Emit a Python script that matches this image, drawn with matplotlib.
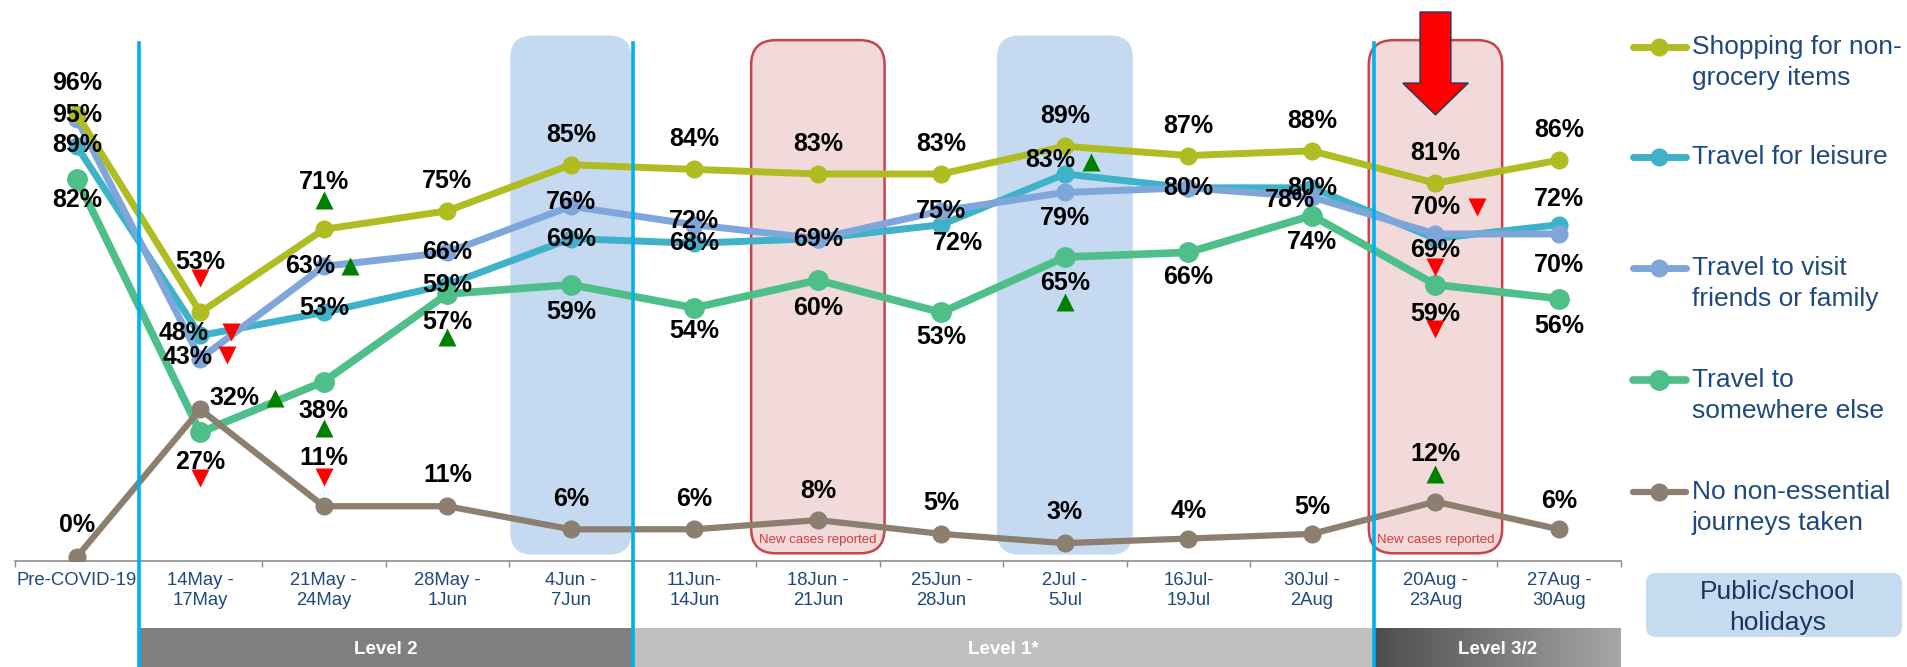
import matplotlib
matplotlib.use("Agg")
import matplotlib.pyplot as plt
import matplotlib.transforms as mtransforms
from matplotlib.patches import FancyBboxPatch, Rectangle
import numpy as np

plt.rcParams['font.family'] = ['Liberation Sans', 'DejaVu Sans']

# ---------------- Data ----------------
weeks = ["Pre-COVID-19", "14May -\n17May", "21May -\n24May", "28May -\n1Jun", "4Jun -\n7Jun",
         "11Jun-\n14Jun", "18Jun -\n21Jun", "25Jun -\n28Jun", "2Jul -\n5Jul", "16Jul-\n19Jul",
         "30Jul -\n2Aug", "20Aug -\n23Aug", "27Aug -\n30Aug"]

shopping  = [96, 53, 71, 75, 85, 84, 83, 83, 89, 87, 88, 81, 86]
leisure   = [89, 48, 53, 59, 69, 68, 69, 72, 83, 80, 80, 69, 72]
visit     = [95, 43, 63, 66, 76, 72, 69, 75, 79, 80, 78, 70, 70]
elsewhere = [82, 27, 38, 57, 59, 54, 60, 53, 65, 66, 74, 59, 56]
no_travel = [0, 32, 11, 11, 6, 6, 8, 5, 3, 4, 5, 12, 6]

# significant change vs previous wave: 1 up, -1 down, 0 none
sig_shopping  = [0, -1, 1, 0, 0, 0, 0, 0, 0, 0, 0, 0, 0]
sig_leisure   = [0, -1, 0, 0, 0, 0, 0, 0, 1, 0, 0, -1, 0]
sig_visit     = [0, -1, 1, 0, 0, 0, 0, 0, 0, 0, 0, -1, 0]
sig_elsewhere = [0, -1, 1, 1, 0, 0, 0, 0, 1, 0, 0, -1, 0]
sig_no_travel = [0, 1, -1, 0, 0, 0, 0, 0, 0, 0, 0, 1, 0]

holiday_weeks = [4, 8]
new_case_weeks = [6, 11]
levels = [("Level 2", 0.5, 4.5), ("Level 1*", 4.5, 10.5), ("Level 3/2", 10.5, 12.5)]

# ---------------- Label placement (pixel offsets) ----------------
lbl_shopping  = [(0, 31), (0, 50), (0, 47)] + [(0, 30)] * 10
tri_shopping  = [None, (0, 34), (0, 29)] + [None] * 10
lbl_leisure   = [(0, 1), (-17, 2), (0, 4), (0, 0), (0, 0), (0, 0), (0, 0), (17, -18),
                 (-15, 14), (0, 0), (0, 0), (0, -11), (0, 26)]
tri_leisure   = [None, (31, 3), None, None, None, None, None, None,
                 (26, 12), None, None, (0, -28), None]
lbl_visit     = [(0, 4), (-13, 2), (-14, 0), (0, 0), (0, 4), (0, 4), None, (0, 0),
                 (0, -26), None, (-22, -3), (0, 27), (0, -31)]
tri_visit     = [None, (27, 4), (26, 0), None, None, None, None, None,
                 None, None, None, (42, 27), None]
lbl_elsewhere = [(0, -21), (0, -30), (0, -29), (0, -28), (0, -27), (0, -23), (0, -28),
                 (0, -25), (0, -26), (0, -25), (0, -26), (0, -29), (0, -27)]
tri_elsewhere = [None, (0, -46), (0, -46), (0, -43), None, None, None, None,
                 (0, -45), None, None, (0, -44), None]
lbl_no_travel = [(0, 32), (34, 11), (0, 48), (0, 31), (0, 30), (0, 30), (0, 29),
                 (0, 31), (0, 31), (0, 28), (0, 27), (0, 48), (0, 28)]
tri_no_travel = [None, (75, 11), (0, 29), None, None, None, None, None,
                 None, None, None, (0, 28), None]

series = [
    ("Travel for leisure", leisure, sig_leisure, lbl_leisure, tri_leisure, "#3FB2C9", 5, 12, 3),
    ("Travel to visit\nfriends or family", visit, sig_visit, lbl_visit, tri_visit, "#7EA6DB", 5, 12, 4),
    ("Travel to\nsomewhere else", elsewhere, sig_elsewhere, lbl_elsewhere, tri_elsewhere, "#4FBF89", 5.5, 14, 5),
    ("No non-essential\njourneys taken", no_travel, sig_no_travel, lbl_no_travel, tri_no_travel, "#8C7F6F", 4.5, 12, 6),
    ("Shopping for non-\ngrocery items", shopping, sig_shopping, lbl_shopping, tri_shopping, "#AFBD22", 5, 12, 7),
]

W, H = 1907, 667
fig = plt.figure(figsize=(W / 100, H / 100), dpi=100)
fig.patch.set_facecolor("white")

# overlay in pixel coordinates for legend / bands
lax = fig.add_axes([0, 0, 1, 1], zorder=0)
lax.set_xlim(0, W)
lax.set_ylim(H, 0)
lax.axis("off")

left_px, right_px, bottom_px = 15, 1620.75, 561
ax = fig.add_axes([left_px / W, (H - bottom_px) / H, (right_px - left_px) / W, bottom_px / H], zorder=1)
ax.patch.set_visible(False)
x = np.arange(len(weeks))
ax.set_xlim(-0.5, len(weeks) - 0.5)
ax.set_ylim(-0.87, 120.7)
for s in ["top", "right", "left"]:
    ax.spines[s].set_visible(False)
ax.spines["bottom"].set_color("#8C8C8C")
ax.spines["bottom"].set_linewidth(1.2)
ax.set_yticks([])
ax.set_xticks([])
ax.set_xticks(np.arange(-0.5, len(weeks), 1), minor=True)
ax.tick_params(axis="x", which="minor", direction="out", length=4, width=1, color="#8C8C8C", labelbottom=False)

blend = mtransforms.blended_transform_factory(ax.transData, lax.transData)

# shaded periods
ma = 123.5 / 4.615
for wk in holiday_weeks:
    hw = 0.49 if wk == 4 else 0.55
    ax.add_patch(FancyBboxPatch((wk - hw, 0.5), 2 * hw, 112.5,
                                boxstyle="round,pad=0,rounding_size=0.18", mutation_aspect=ma,
                                fc="#C5DAF0", ec="none", zorder=1))
for wk in new_case_weeks:
    ax.add_patch(FancyBboxPatch((wk - 0.54, 0.8), 1.08, 111.2,
                                boxstyle="round,pad=0,rounding_size=0.2", mutation_aspect=ma,
                                fc="#F2DADA", ec="#C9444A", lw=1.8, zorder=1))
    ax.text(wk, 3.6, "New cases reported", color="#D9383E", fontsize=9.5,
            ha="center", va="center", zorder=2)

# red arrow
ax.arrow(11, 118.1, 0, -22.3, width=0.25, head_width=0.53, head_length=6.9,
         length_includes_head=True, fc="#FF0000", ec="#1F3864", lw=1.0, zorder=9)

# series
for name, vals, sig, lbl, tri, col, lw, ms, z in series:
    ax.plot(x, vals, color=col, lw=lw, marker="o", ms=ms, mfc=col, mec=col,
            solid_capstyle="round", zorder=z)
    for i, v in enumerate(vals):
        if lbl[i] is not None:
            ax.annotate(f"{v}%", (x[i], v), xytext=lbl[i], textcoords="offset pixels",
                        ha="center", va="center", fontsize=18, fontweight="bold",
                        color="black", zorder=10)
        if sig[i] != 0 and tri[i] is not None:
            tr = mtransforms.offset_copy(ax.transData, fig=fig, x=tri[i][0], y=tri[i][1], units="dots")
            ax.plot(x[i], v, marker="^" if sig[i] > 0 else "v", ms=12.5, mec="none",
                    color="#008000" if sig[i] > 0 else "#FF0000", transform=tr, zorder=10)

# level divider lines
for xb in [0.5, 4.5, 10.5]:
    ax.plot([xb, xb], [43, H], color="#00B0F0", lw=2.6, transform=blend, clip_on=False, zorder=8)

# category labels
for i, lab in enumerate(weeks):
    ax.text(i, 572, lab, transform=blend, ha="center", va="top", fontsize=13.3,
            color="#1F497D", linespacing=1.25, clip_on=False)

# level band
band_y0, band_y1 = 628, H
ax.add_patch(Rectangle((0.5, band_y0), 4.0, band_y1 - band_y0, transform=blend,
                       fc="#7F7F7F", ec="none", clip_on=False, zorder=0))
ax.add_patch(Rectangle((4.5, band_y0), 6.0, band_y1 - band_y0, transform=blend,
                       fc="#BFBFBF", ec="none", clip_on=False, zorder=0))
nstep = 60
edges = np.linspace(10.5, 12.5, nstep + 1)
for k in range(nstep):
    g = 0.30 + 0.35 * k / (nstep - 1)
    ax.add_patch(Rectangle((edges[k], band_y0), edges[k + 1] - edges[k] + 0.005, band_y1 - band_y0,
                           transform=blend, fc=(g, g, g), ec="none", clip_on=False, zorder=0))
for name, a, b in levels:
    ax.text((a + b) / 2, 650, name, transform=blend, ha="center", va="center",
            fontsize=13.5, fontweight="bold", color="white", clip_on=False, zorder=1)

# legend
leg_y = {"Shopping for non-\ngrocery items": 47, "Travel for leisure": 157,
         "Travel to visit\nfriends or family": 268, "Travel to\nsomewhere else": 380,
         "No non-essential\njourneys taken": 492}
for name, vals, sig, lbl, tri, col, lw, ms, z in series:
    y0 = leg_y[name]
    lax.plot([1633, 1686], [y0, y0], color=col, lw=lw, solid_capstyle="round")
    lax.plot([1659], [y0], marker="o", ms=ms, color=col)
    lines = name.split("\n")
    for j, t in enumerate(lines):
        lax.text(1692, y0 + 31 * j, t, ha="left", va="center", fontsize=19, color="#1F497D")

lax.add_patch(FancyBboxPatch((1646, 573), 256, 64, boxstyle="round,pad=0,rounding_size=10",
                             fc="#C6DBEF", ec="none"))
lax.text(1778, 592, "Public/school", ha="center", va="center", fontsize=19, color="#17375E")
lax.text(1778, 623, "holidays", ha="center", va="center", fontsize=19, color="#17375E")

fig.savefig("out.png", dpi=100)
